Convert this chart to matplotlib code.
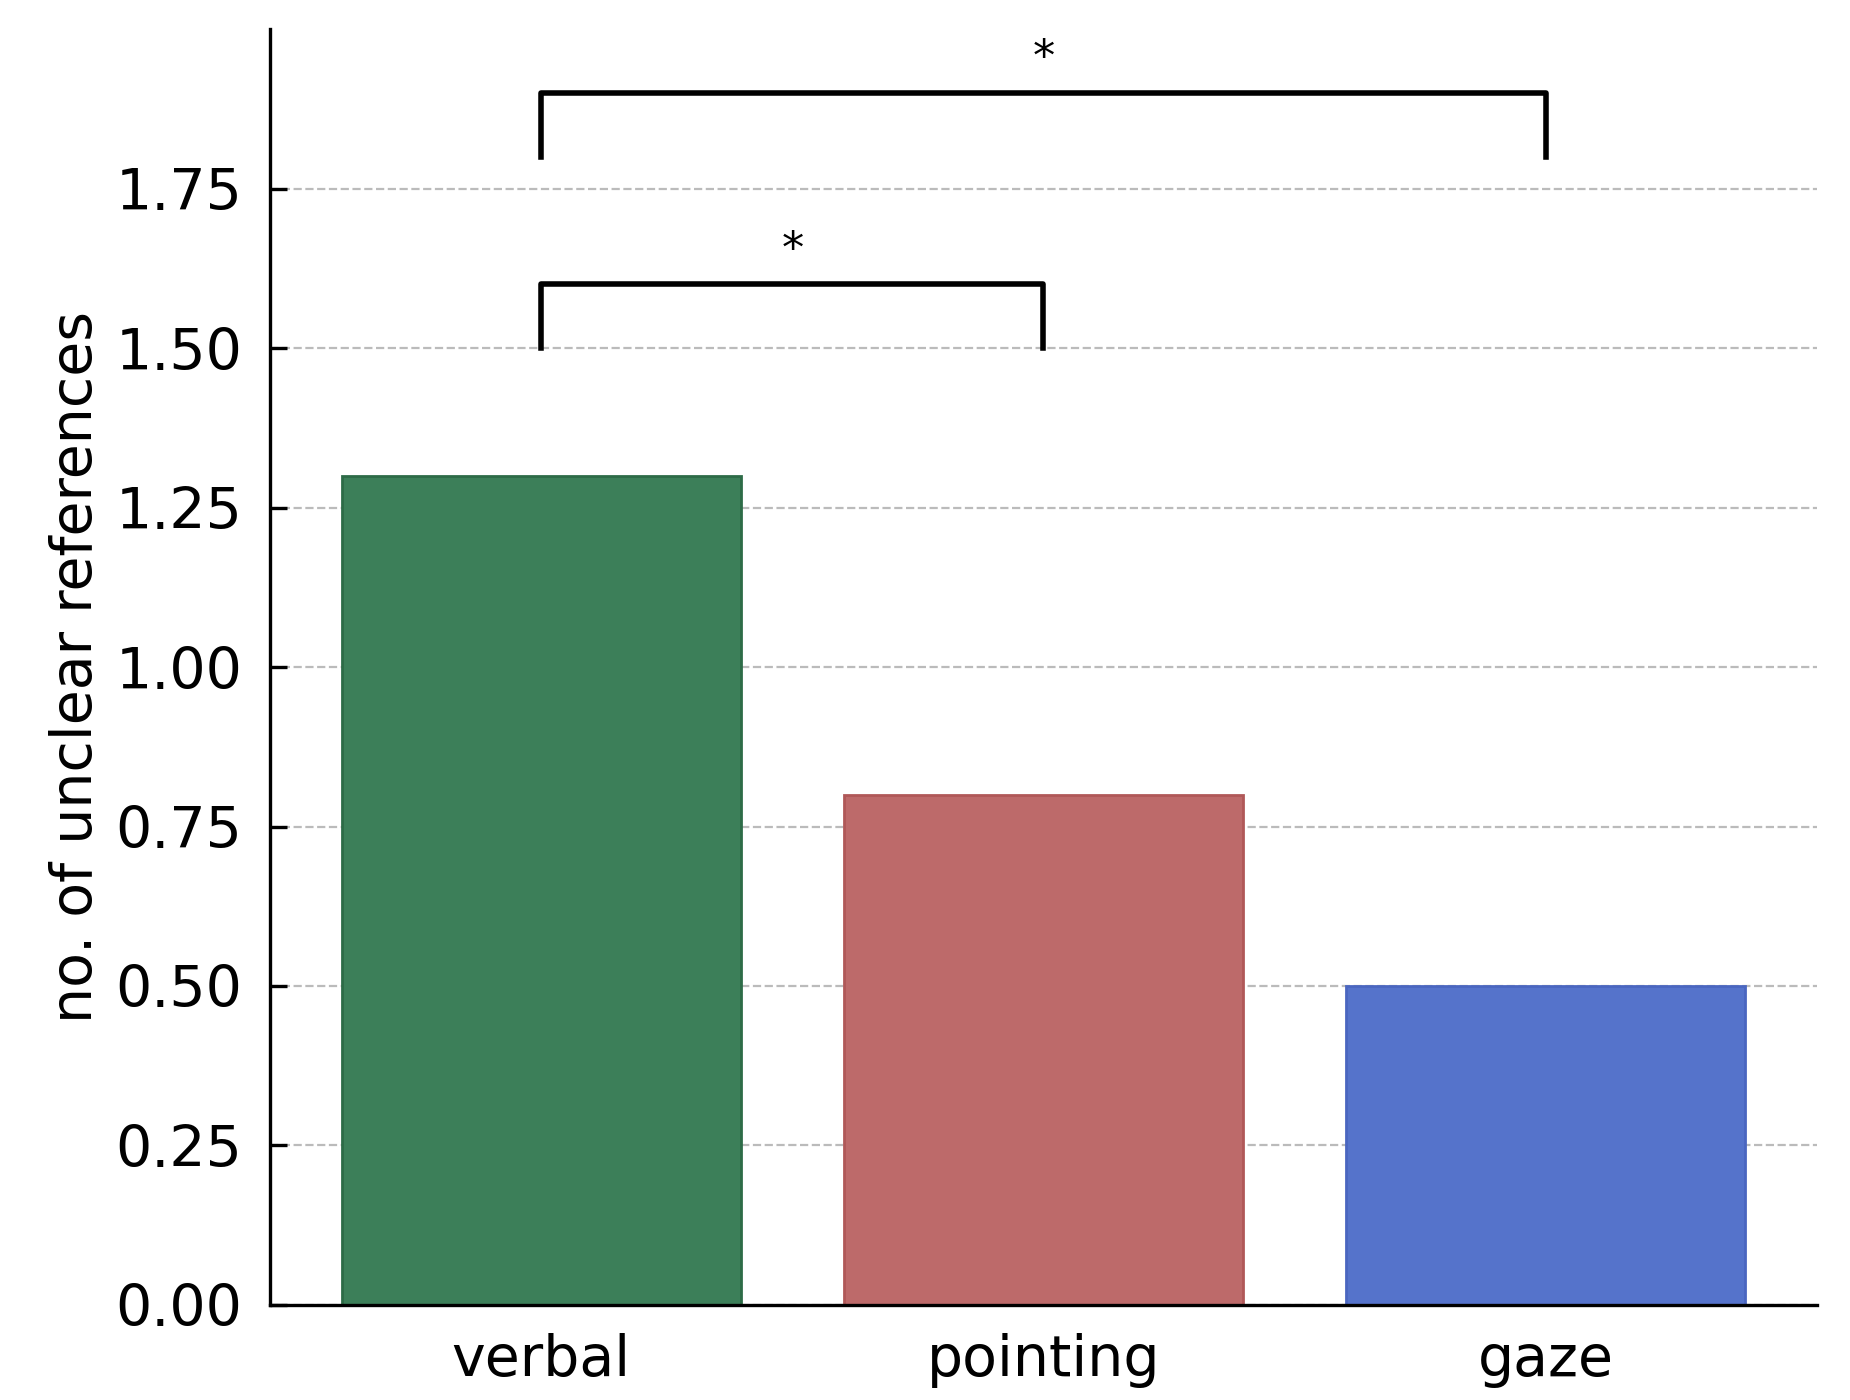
import matplotlib
matplotlib.use("Agg")
import matplotlib.pyplot as plt

categories = ["verbal", "pointing", "gaze"]
values = [1.30, 0.80, 0.50]
colors = ["#3c7f59", "#bd6a6a", "#5573cb"]
edge_colors = ["#2d6b47", "#b05858", "#4a66c0"]
yticks = [0.00, 0.25, 0.50, 0.75, 1.00, 1.25, 1.50, 1.75]
brackets = [(0, 1, 1.50, 1.60), (0, 2, 1.80, 1.90)]

fig = plt.figure(figsize=(9.25, 7), dpi=200)
ax = fig.add_axes([0.146, 0.068, 0.836, 0.911])
x = list(range(len(categories)))
ax.bar(x, values, width=0.795, color=colors, edgecolor=edge_colors, linewidth=1, zorder=2)
ax.set_xlim(-0.54, 2.54)
ax.set_ylim(0, 2.0)
ax.set_yticks(yticks)
ax.set_yticklabels([f"{t:.2f}" for t in yticks])
ax.set_xticks(x)
ax.set_xticklabels(categories)
ax.yaxis.grid(True, linestyle="--", color="#bbbbbb", linewidth=0.8, zorder=0)
ax.set_axisbelow(True)
for s in ["top", "right"]:
    ax.spines[s].set_visible(False)
for s in ["left", "bottom"]:
    ax.spines[s].set_linewidth(1.2)
ax.tick_params(direction="in", labelsize=20.5, length=6, width=1.2, pad=10)
ax.set_ylabel("no. of unclear references", fontsize=20.5)
for a, b, y0, y1 in brackets:
    ax.plot([a, a, b, b], [y0, y1, y1, y0], color="black", linewidth=2, zorder=3)
    ax.text((a + b) / 2, y1 + 0.02, "*", ha="center", va="bottom", fontsize=16)
fig.savefig("out.png", dpi=200)
